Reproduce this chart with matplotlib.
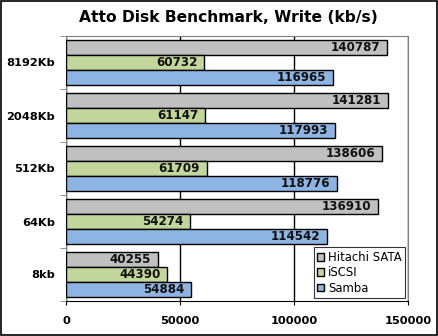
import matplotlib
matplotlib.use("Agg")
import matplotlib.pyplot as plt
from matplotlib.patches import Rectangle
import numpy as np

categories = ["8kb", "64Kb", "512Kb", "2048Kb", "8192Kb"]
series_names = ["Hitachi SATA", "iSCSI", "Samba"]
hitachi = [40255, 136910, 138606, 141281, 140787]
iscsi = [44390, 54274, 61709, 61147, 60732]
samba = [54884, 114542, 118776, 117993, 116965]
x_ticks = [0, 50000, 100000, 150000]

colors = ["#C0C0C0", "#C3D69B", "#8DB4E2"]
values = [hitachi, iscsi, samba]

fig = plt.figure(figsize=(4.39, 3.36), dpi=100)
fig.patches.append(Rectangle((0.002, 0.004), 0.994, 0.993, transform=fig.transFigure,
                             fill=False, edgecolor="black", linewidth=1.2))
ax = fig.add_axes([66/439, 35/336, 342/439, 265/336])

bh = 0.285
offsets = [bh, 0, -bh]
y = np.arange(len(categories))
for vals, col, off, name in zip(values, colors, offsets, series_names):
    ax.barh(y + off, vals, height=bh, color=col, edgecolor="black", linewidth=1.0, label=name, zorder=3)
    for yi, v in zip(y, vals):
        ax.text(v - 3000, yi + off, f"{v}", ha="right", va="center", fontsize=8.6,
                fontweight="bold", color="#111111", zorder=4)

ax.set_xlim(0, 150000)
ax.set_ylim(-0.5, len(categories) - 0.5)
ax.set_xticks(x_ticks)
ax.set_xticklabels([str(t) for t in x_ticks], fontsize=8.2, fontweight="bold")
ax.set_yticks(y)
ax.set_yticklabels(categories, fontsize=8.2, fontweight="bold")
ax.tick_params(axis="y", which="major", length=0, pad=8)
ax.set_yticks(np.arange(-0.5, len(categories), 1.0), minor=True)
ax.tick_params(axis="y", which="minor", length=4, color="#808080", direction="out")
ax.tick_params(axis="x", which="major", length=3, direction="out", pad=8)
ax.grid(axis="x", color="black", linewidth=1.0, zorder=0)
ax.set_axisbelow(True)
for s in ["top", "right", "left"]:
    ax.spines[s].set_color("#808080")
ax.spines["bottom"].set_color("black")

fig.text(228/439, 1 - 17/336, "Atto Disk Benchmark, Write (kb/s)", ha="center", va="center",
         fontsize=11.2, fontweight="bold")

leg = ax.legend(loc="lower right", fontsize=8.4, frameon=True, fancybox=False, edgecolor="black",
                handlelength=0.6, handleheight=0.6, handletextpad=0.3, borderpad=0.3,
                labelspacing=0.2, borderaxespad=0.25)
leg.get_frame().set_linewidth(0.8)
leg.set_zorder(5)

fig.savefig("out.png", dpi=100)
